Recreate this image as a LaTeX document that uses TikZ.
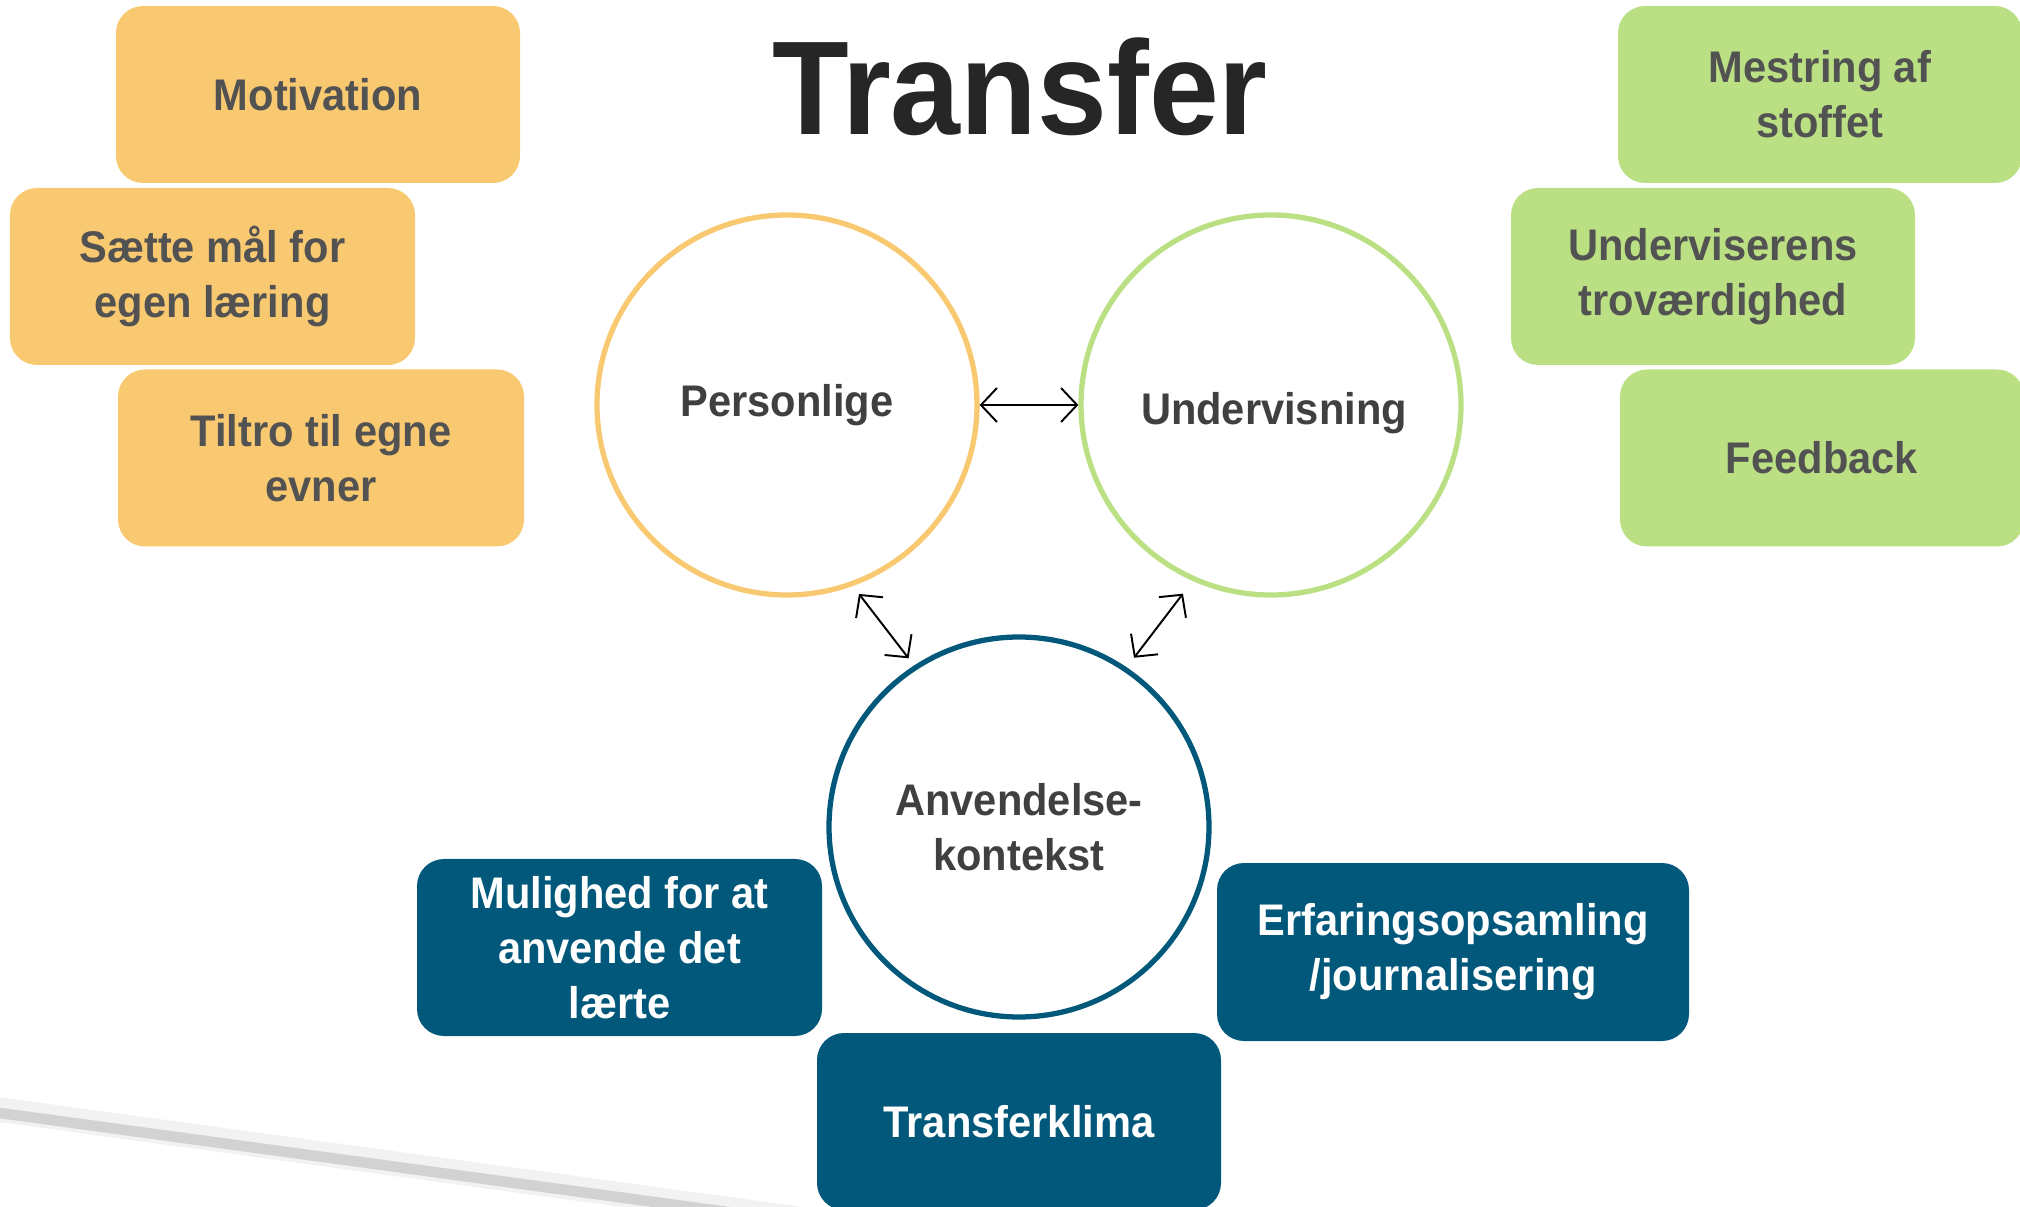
\documentclass[tikz,border=0pt]{standalone}
\usepackage{fontspec}
\setmainfont{Liberation Sans}[FakeStretch=0.94]
\usepackage{tikz}
\usetikzlibrary{arrows.meta}
\definecolor{gul}{RGB}{248,201,112}
\definecolor{groen}{RGB}{187,224,132}
\definecolor{blaa}{RGB}{1,88,122}
\definecolor{tekst}{RGB}{82,82,82}
\definecolor{rundtekst}{RGB}{64,64,64}
\definecolor{titelfarve}{RGB}{38,38,38}
\tikzset{
  boks/.style={rounded corners=0.27cm, minimum width=4.04cm, minimum height=1.77cm, inner sep=0pt,
    align=center, text=tekst, font=\fontsize{12.6}{15.6}\selectfont\bfseries},
  cirkel/.style={circle, draw, line width=1.5pt, minimum size=3.8cm, inner sep=0pt,
    align=center, text=rundtekst, font=\fontsize{12.6}{15.6}\selectfont\bfseries},
  pil/.style={{Straight Barb[length=1.6mm,width=3.4mm]}-{Straight Barb[length=1.6mm,width=3.4mm]}, line width=0.55pt}
}

\begin{document}
\begin{tikzpicture}
\useasboundingbox (0,0) rectangle (20.2,12.06);
\clip (0,0) rectangle (20.2,12.06);
\draw[line width=7pt, gray!10] (-0.2,0.99) -- (8,-0.13);
\draw[line width=3pt, gray!35] (-0.2,0.957) -- (8,-0.158);

\node[font=\fontsize{38}{40}\selectfont\bfseries, text=titelfarve, anchor=base] (titel) at (10.2,10.71) {Transfer};

\node[boks, fill=gul] (motivation) at (3.18,11.115) {Motivation};
\node[boks, fill=gul, minimum width=4.05cm] (maal) at (2.125,9.295) {Sætte mål for\\egen læring};
\node[boks, fill=gul, minimum width=4.06cm] (tiltro) at (3.21,7.48) {Tiltro til egne\\evner};

\node[boks, fill=groen] (mestring) at (18.20,11.115) {Mestring af\\stoffet};
\node[boks, fill=groen] (troverdig) at (17.13,9.295) {Underviserens\\troværdighed};
\node[boks, fill=groen] (feedback) at (18.22,7.48) {Feedback};

\node[cirkel, gul] (pers) at (7.87,8.01) {};
\node[text=rundtekst, font=\fontsize{12.6}{15.6}\selectfont\bfseries] at (pers) {Personlige};
\node[cirkel, groen] (underv) at (12.71,8.01) {};
\node[text=rundtekst, font=\fontsize{12.6}{15.6}\selectfont\bfseries] at (12.74,7.93) {Undervisning};
\node[cirkel, blaa] (anv) at (10.19,3.79) {};
\node[text=rundtekst, font=\fontsize{12.6}{15.6}\selectfont\bfseries, align=center] at (anv) {Anvendelse-\\kontekst};

\draw[pil] (pers) -- (underv);
\draw[pil, shorten <=0.1cm, shorten >=0.09cm] (pers.-70) -- (anv.123);
\draw[pil, shorten <=0.16cm, shorten >=0.12cm] (underv.-114) -- (anv.56);

\node[boks, fill=blaa, text=white, minimum width=4.05cm] (mulighed) at (6.195,2.585) {Mulighed for at\\anvende det\\lærte};
\node[boks, fill=blaa, text=white, minimum width=4.72cm, minimum height=1.78cm] (erfaring) at (14.53,2.54) {Erfaringsopsamling\\/journalisering};
\node[boks, fill=blaa, text=white] (klima) at (10.19,0.845) {Transferklima};
\end{tikzpicture}
\end{document}
